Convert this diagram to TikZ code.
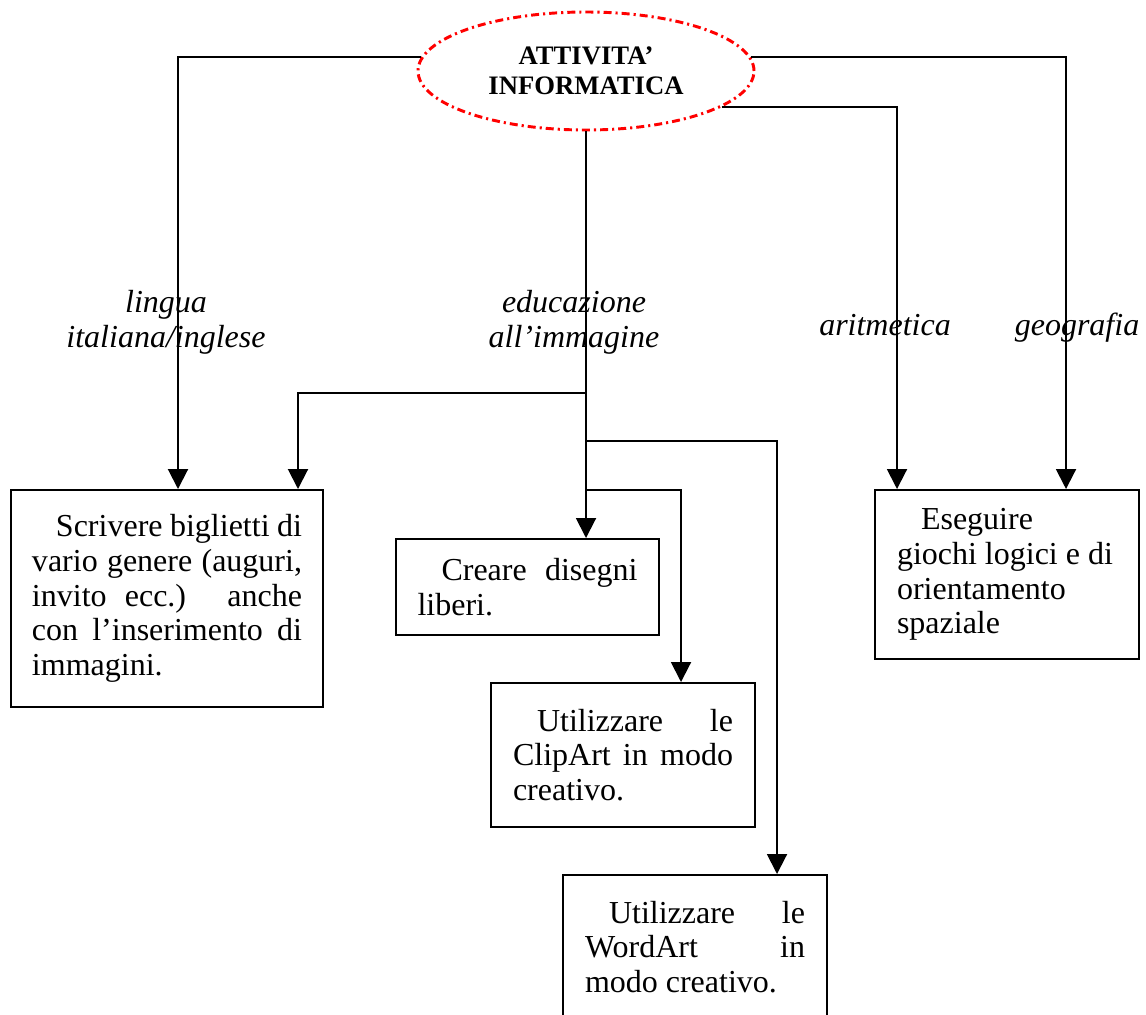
\documentclass[tikz,border=0pt]{standalone}
\usepackage{fontspec}
\setmainfont{Liberation Serif}
\usetikzlibrary{arrows.meta,shapes.geometric,calc}
\newcommand\jl[1]{\makebox[\linewidth][s]{#1}}
\newcommand\ind{\hspace*{9pt}}
\begin{document}
\begin{tikzpicture}[x=0.375pt,y=-0.375pt,
  conn/.style={line width=0.75pt,-{Triangle[width=7.5pt,length=7.5pt]}},
  box/.style={draw,line width=0.75pt,rectangle,anchor=north west,inner sep=0pt,
    font=\fontsize{12}{13}\selectfont},
  lab/.style={font=\fontsize{12}{13}\selectfont\itshape,align=center,inner sep=0pt},
  titlestyle/.style={ellipse,draw=red,line width=1.1pt,
    dash pattern=on 3pt off 1.5pt on 0.8pt off 1.5pt,
    minimum width=126pt,minimum height=44.25pt,inner sep=0pt,align=center,
    font=\fontsize{10}{11.25}\selectfont\bfseries}
]
\useasboundingbox (0,0) rectangle (1146,1014);
\clip (0,0) rectangle (1146,1014);

\node[titlestyle] (title) at (586,71) {ATTIVITA’\\INFORMATICA};

\node[box,minimum width=117pt,minimum height=81.375pt] (box1) at (10,489)
  {\parbox{101.25pt}{\jl{\ind Scrivere biglietti di}\par
   \jl{vario genere (auguri,}\par
   \jl{invito ecc.) anche}\par
   \jl{con l’inserimento di}\par
   immagini.}};

\node[box,minimum width=98.625pt,minimum height=36pt] (box2) at (395,538)
  {\parbox{82.5pt}{\jl{\ind Creare disegni}\par liberi.}};

\node[box,minimum width=99pt,minimum height=54pt] (box3) at (490,682)
  {\parbox{82.5pt}{\jl{\ind Utilizzare le}\par
   \jl{ClipArt in modo}\par creativo.}};

\node[box,minimum width=99pt,minimum height=54pt] (box4) at (562,874)
  {\parbox{82.5pt}{\jl{\ind Utilizzare le}\par
   \jl{WordArt in}\par modo creativo.}};

\node[box,minimum width=99pt,minimum height=63.375pt] (box5) at (874,489)
  {\parbox{82.5pt}{\ind Eseguire\par
   giochi logici e di\par orientamento\par spaziale}};

\node[lab] (lab1) at (166,322) {lingua\\italiana/inglese};
\node[lab] (lab2) at (574,322) {educazione\\all’immagine};
\node[lab,anchor=base] (lab3) at (885,335) {aritmetica};
\node[lab,anchor=base] (lab4) at (1077,335) {geografia};

\coordinate (j1) at (586,393);
\coordinate (j2) at (586,441);
\coordinate (j3) at (586,490);

\draw[conn] (title.175) -| ($(box1.north west)+(168,0)$);
\draw[conn] (title.5) -| ($(box5.north west)+(192,0)$);
\draw[conn] (title.345.5) -| ($(box5.north west)+(23,0)$);
\draw[conn] (title.south) -- ($(box2.north west)+(191,0)$);
\draw[conn] (j1) -| ($(box1.north west)+(288,0)$);
\draw[conn] (j2) -| ($(box4.north west)+(215,0)$);
\draw[conn] (j3) -| ($(box3.north west)+(191,0)$);
\end{tikzpicture}
\end{document}
